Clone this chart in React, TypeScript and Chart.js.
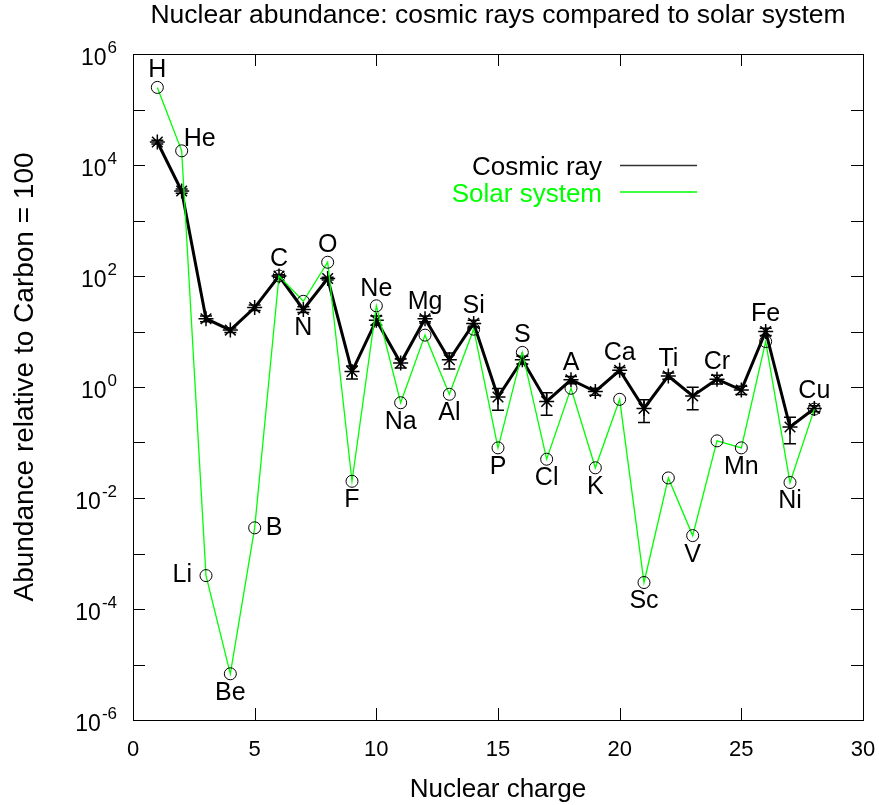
import React, { useEffect, useRef } from "react";
import { Chart, registerables } from "chart.js";

Chart.register(...registerables);

// ---------- data ----------
const charge = [1, 2, 3, 4, 5, 6, 7, 8, 9, 10, 11, 12, 13, 14, 15, 16, 17, 18, 19, 20, 21, 22, 23, 24, 25, 26, 27, 28];
const elements = ["H", "He", "Li", "Be", "B", "C", "N", "O", "F", "Ne", "Na", "Mg", "Al", "Si", "P", "S", "Cl", "A", "K", "Ca", "Sc", "Ti", "V", "Cr", "Mn", "Fe", "Ni", "Cu"];
const labelPlacement = ["above", "upright", "left", "below", "right", "above", "below", "above", "below", "above", "below", "above", "below", "above", "below", "above", "below", "above", "below", "above", "below", "above", "below", "above", "below", "above", "below", "above"];
const cosmicRay = [2.6e4, 3.4e3, 17, 10.6, 27, 100, 25, 90, 1.9, 16, 2.7, 17, 3.1, 14, 0.66, 3.1, 0.55, 1.35, 0.83, 2.0, 0.41, 1.58, 0.69, 1.38, 0.88, 10, 0.19, 0.41];
const cosmicRayErr = [2000, 300, 2, 1, 3, 5, 3, 5, 0.5, 3, 0.5, 2, 1.0, 2, 0.28, 0.5, 0.24, 0.2, 0.12, 0.25, 0.18, 0.2, 0.3, 0.25, 0.15, 1.5, 0.095, 0.05];
const solarSystem = [2.5e5, 1.8e4, 4e-4, 6.8e-6, 2.9e-3, 100, 35, 177, 0.02, 29, 0.52, 8.6, 0.74, 11, 0.08, 4.2, 0.05, 0.95, 0.035, 0.6, 3e-4, 0.023, 2.1e-3, 0.107, 0.08, 6.6, 0.019, 0.4];
const xTicks = [0, 5, 10, 15, 20, 25, 30];
const yTickExponents = [-6, -5, -4, -3, -2, -1, 0, 1, 2, 3, 4, 5, 6];
const yLabelExponents = [-6, -4, -2, 0, 2, 4, 6];
const titleText = "Nuclear abundance: cosmic rays compared to solar system";
const xTitle = "Nuclear charge";
const yTitle = "Abundance relative to Carbon = 100";
const legendOrder = ["Cosmic ray", "Solar system"];

const FONT = '"Liberation Sans", Arial, Helvetica, sans-serif';

const overlayPlugin = {
  id: "overlay",
  beforeDatasetsDraw(chart: any) {
    const { ctx } = chart;
    const xs = chart.scales.x;
    const ys = chart.scales.y;
    ctx.save();
    ctx.strokeStyle = "#000";
    ctx.lineWidth = 1.5;
    for (let i = 0; i < charge.length; i++) {
      const px = xs.getPixelForValue(charge[i]);
      const top = ys.getPixelForValue(cosmicRay[i] + cosmicRayErr[i]);
      const bot = ys.getPixelForValue(Math.max(cosmicRay[i] - cosmicRayErr[i], 1e-6));
      ctx.beginPath();
      ctx.moveTo(px, top);
      ctx.lineTo(px, bot);
      ctx.moveTo(px - 6, top);
      ctx.lineTo(px + 6, top);
      ctx.moveTo(px - 6, bot);
      ctx.lineTo(px + 6, bot);
      ctx.stroke();
    }
    ctx.restore();
  },
  afterDatasetsDraw(chart: any) {
    const { ctx, chartArea } = chart;
    const { left, right, top, bottom } = chartArea;
    const xs = chart.scales.x;
    const ys = chart.scales.y;
    ctx.save();
    // frame
    ctx.strokeStyle = "#000";
    ctx.lineWidth = 1;
    ctx.strokeRect(Math.round(left) + 0.5, Math.round(top) + 0.5, Math.round(right - left), Math.round(bottom - top));
    const tl = 12;
    ctx.beginPath();
    for (const t of xTicks) {
      const px = Math.round(xs.getPixelForValue(t)) + 0.5;
      ctx.moveTo(px, bottom);
      ctx.lineTo(px, bottom - tl);
      ctx.moveTo(px, top);
      ctx.lineTo(px, top + tl);
    }
    for (const e of yTickExponents) {
      const py = Math.round(ys.getPixelForValue(Math.pow(10, e))) + 0.5;
      ctx.moveTo(left, py);
      ctx.lineTo(left + tl, py);
      ctx.moveTo(right, py);
      ctx.lineTo(right - tl, py);
    }
    ctx.stroke();

    ctx.fillStyle = "#000";
    // x tick labels
    ctx.font = `22px ${FONT}`;
    ctx.textAlign = "center";
    ctx.textBaseline = "alphabetic";
    for (const t of xTicks) {
      ctx.fillText(String(t), xs.getPixelForValue(t), bottom + 36);
    }
    // y tick labels with superscripts
    for (const e of yLabelExponents) {
      const py = ys.getPixelForValue(Math.pow(10, e));
      const rightEdge = left - 16;
      ctx.font = `17px ${FONT}`;
      ctx.textAlign = "right";
      const expStr = String(e);
      const ew = ctx.measureText(expStr).width;
      ctx.fillText(expStr, rightEdge, py - 1);
      ctx.font = `23px ${FONT}`;
      ctx.fillText("10", rightEdge - ew - 1, py + 11);
    }
    // axis titles
    ctx.font = `26px ${FONT}`;
    ctx.textAlign = "center";
    ctx.fillText(xTitle, (left + right) / 2, bottom + 77);
    ctx.save();
    ctx.translate(33, (top + bottom) / 2 - 10);
    ctx.rotate(-Math.PI / 2);
    ctx.font = `28px ${FONT}`;
    ctx.fillText(yTitle, 0, 0);
    ctx.restore();
    // title
    ctx.font = `26.5px ${FONT}`;
    ctx.fillText(titleText, (left + right) / 2, 23);

    // legend
    const legendTextRight = 602;
    const legendLineStart = 620;
    const legendLineEnd = 697;
    legendOrder.forEach((name, k) => {
      const ds = chart.data.datasets.find((d: any) => d.label === name);
      const baseY = 175 + k * 26.5;
      ctx.font = `26px ${FONT}`;
      ctx.textAlign = "right";
      ctx.fillStyle = ds.labelColor;
      ctx.fillText(name, legendTextRight, baseY);
      ctx.strokeStyle = ds.legendLineColor;
      ctx.lineWidth = 1.5;
      ctx.beginPath();
      ctx.moveTo(legendLineStart, baseY - 9.5);
      ctx.lineTo(legendLineEnd, baseY - 9.5);
      ctx.stroke();
    });

    // element labels
    ctx.fillStyle = "#000";
    ctx.font = `25px ${FONT}`;
    ctx.textBaseline = "middle";
    for (let i = 0; i < elements.length; i++) {
      const px = xs.getPixelForValue(charge[i]);
      const yc = ys.getPixelForValue(cosmicRay[i]);
      const yss = ys.getPixelForValue(solarSystem[i]);
      const p = labelPlacement[i];
      if (p === "above") {
        ctx.textAlign = "center";
        ctx.fillText(elements[i], px, Math.min(yc, yss) - 17);
      } else if (p === "below") {
        ctx.textAlign = "center";
        ctx.fillText(elements[i], px, Math.max(yc, yss) + 19);
      } else if (p === "left") {
        ctx.textAlign = "right";
        ctx.fillText(elements[i], px - 14, yss);
      } else if (p === "right") {
        ctx.textAlign = "left";
        ctx.fillText(elements[i], px + 11, yss);
      } else if (p === "upright") {
        ctx.textAlign = "left";
        ctx.fillText(elements[i], px + 2, yss - 12);
      }
    }
    ctx.restore();
  },
};

export default function App() {
  const ref = useRef<HTMLCanvasElement | null>(null);
  useEffect(() => {
    document.body.style.margin = "0";
    if (!ref.current) return;
    const chart = new Chart(ref.current, {
      type: "line",
      data: {
        datasets: [
          {
            label: "Solar system",
            data: charge.map((x, i) => ({ x, y: solarSystem[i] })),
            borderColor: "#00ff00",
            borderWidth: 1.3,
            pointStyle: "circle",
            pointRadius: 6,
            pointBorderColor: "#000",
            pointBackgroundColor: "rgba(0,0,0,0)",
            pointBorderWidth: 1,
            tension: 0,
            order: 1,
            labelColor: "#00ff00",
            legendLineColor: "#00ff00",
          } as any,
          {
            label: "Cosmic ray",
            data: charge.map((x, i) => ({ x, y: cosmicRay[i] })),
            borderColor: "#000",
            borderWidth: 3,
            pointStyle: "star",
            pointRadius: 7.5,
            pointBorderColor: "#000",
            pointBackgroundColor: "#000",
            pointBorderWidth: 1.5,
            tension: 0,
            order: 2,
            labelColor: "#000",
            legendLineColor: "#333",
          } as any,
        ],
      },
      options: {
        animation: false,
        responsive: false,
        layout: { padding: { left: 133, top: 54, right: 16, bottom: 85 } },
        scales: {
          x: { type: "linear", min: 0, max: 30, display: false },
          y: { type: "logarithmic", min: 1e-6, max: 1e6, display: false },
        },
        plugins: {
          legend: { display: false },
          title: { display: false },
          tooltip: { enabled: false },
        },
      },
      plugins: [overlayPlugin],
    });
    return () => chart.destroy();
  }, []);
  return <canvas ref={ref} width={879} height={805} style={{ display: "block" }} />;
}
